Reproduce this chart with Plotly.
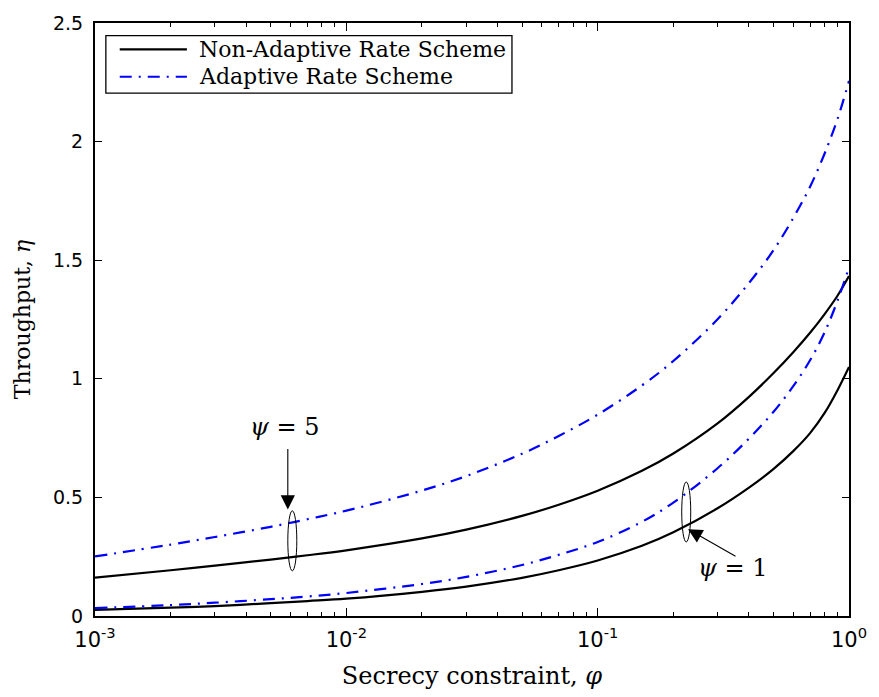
import math
import plotly.graph_objects as go

# Secrecy constraint values (sample points on the log axis)
phi = [0.001, 0.002, 0.003, 0.005, 0.007, 0.01, 0.02, 0.03, 0.05, 0.07,
       0.1, 0.15, 0.2, 0.3, 0.4, 0.5, 0.6, 0.7, 0.8, 0.9, 1.0]

# Throughput, psi = 5
non_adaptive_psi5 = [0.162, 0.193, 0.212, 0.238, 0.256, 0.277, 0.327, 0.364, 0.422, 0.469,
                     0.528, 0.612, 0.685, 0.812, 0.924, 1.023, 1.112, 1.194, 1.273, 1.350, 1.433]
adaptive_psi5 = [0.251, 0.301, 0.333, 0.376, 0.408, 0.444, 0.529, 0.590, 0.684, 0.759,
                 0.849, 0.972, 1.075, 1.251, 1.404, 1.541, 1.678, 1.810, 1.950, 2.095, 2.256]

# Throughput, psi = 1
non_adaptive_psi1 = [0.026, 0.035, 0.042, 0.054, 0.063, 0.073, 0.102, 0.124, 0.161, 0.193,
                     0.234, 0.296, 0.353, 0.454, 0.541, 0.619, 0.695, 0.771, 0.856, 0.952, 1.050]
adaptive_psi1 = [0.033, 0.046, 0.056, 0.071, 0.082, 0.097, 0.135, 0.165, 0.215, 0.258,
                 0.312, 0.397, 0.478, 0.623, 0.748, 0.860, 0.969, 1.078, 1.196, 1.329, 1.470]

x_tick_vals = [1e-3, 1e-2, 1e-1, 1e0]
x_tick_text = ["10<sup>-3</sup>", "10<sup>-2</sup>", "10<sup>-1</sup>", "10<sup>0</sup>"]
y_tick_vals = [0, 0.5, 1, 1.5, 2, 2.5]
y_tick_text = ["0", "0.5", "1", "1.5", "2", "2.5"]

legend_labels = ["Non-Adaptive Rate Scheme", "Adaptive Rate Scheme"]

BLACK = "#000000"
BLUE = "#0000ff"
DASHDOT = "12px,7px,2px,7px"
SERIF = "DejaVu Serif"
SANS = "DejaVu Sans"

fig = go.Figure()

for ys in (non_adaptive_psi5, non_adaptive_psi1):
    fig.add_trace(go.Scatter(
        x=phi, y=ys, mode="lines", name=legend_labels[0], showlegend=False,
        line=dict(color=BLACK, width=2.2, shape="spline", smoothing=1),
    ))
for ys in (adaptive_psi5, adaptive_psi1):
    fig.add_trace(go.Scatter(
        x=phi, y=ys, mode="lines", name=legend_labels[1], showlegend=False,
        line=dict(color=BLUE, width=2.2, dash=DASHDOT, shape="spline", smoothing=1),
    ))

minor_vals = [m * 10.0 ** e for e in (-3, -2, -1) for m in range(2, 10)]

fig.update_xaxes(
    type="log", range=[-3, 0],
    tickmode="array", tickvals=x_tick_vals, ticktext=x_tick_text,
    ticks="inside", ticklen=8, tickwidth=1.2, tickcolor=BLACK,
    minor=dict(tickmode="array", tickvals=minor_vals, ticks="inside",
               ticklen=4, tickwidth=1, tickcolor=BLACK, showgrid=False),
    showline=True, linecolor=BLACK, linewidth=2, mirror="ticks",
    showgrid=False, zeroline=False,
    tickfont=dict(family=SANS, size=21, color=BLACK),
    ticklabelstandoff=4,
    title=dict(text="Secrecy constraint, <i>φ</i>",
               font=dict(family=SERIF, size=24, color=BLACK), standoff=16),
)
fig.update_yaxes(
    range=[0, 2.5],
    tickmode="array", tickvals=y_tick_vals, ticktext=y_tick_text,
    ticks="inside", ticklen=7, tickwidth=1.2, tickcolor=BLACK,
    showline=True, linecolor=BLACK, linewidth=2, mirror="ticks",
    showgrid=False, zeroline=False,
    tickfont=dict(family=SANS, size=19, color=BLACK),
    ticklabelstandoff=6,
    title=dict(text="Throughput, <i>η</i>",
               font=dict(family=SERIF, size=22, color=BLACK), standoff=16),
)

# Legend drawn in paper coordinates
fig.add_shape(type="rect", xref="paper", yref="paper",
              x0=0.0144, x1=0.553, y0=0.8816, y1=0.9787,
              line=dict(color=BLACK, width=1.3), fillcolor="white", layer="above")
legend_rows = [(0.9554, BLACK, "solid"), (0.9094, BLUE, DASHDOT)]
for (yy, col, dsh), label in zip(legend_rows, legend_labels):
    fig.add_shape(type="line", xref="paper", yref="paper",
                  x0=0.0328, x1=0.1219, y0=yy, y1=yy,
                  line=dict(color=col, width=2.2, dash=dsh), layer="above")
    fig.add_annotation(xref="paper", yref="paper", x=0.135, y=yy,
                       text=label, showarrow=False, xanchor="left", yanchor="middle",
                       font=dict(family=SERIF, size=22, color=BLACK))

# Ellipses grouping the curve pairs
for cx, cy in ((0.00585, 0.317), (0.216, 0.4385)):
    fig.add_shape(type="circle", xref="x", yref="y",
                  xsizemode="pixel", ysizemode="pixel",
                  xanchor=cx, yanchor=cy, x0=-9, x1=9, y0=-30, y1=30,
                  line=dict(color=BLACK, width=1))

# psi labels and arrows
fig.add_annotation(x=math.log10(0.00585), y=0.449, ax=0, ay=-62,
                   xref="x", yref="y",
                   text="", showarrow=True, arrowhead=2, arrowsize=2.6,
                   arrowwidth=1.1, arrowcolor=BLACK)
fig.add_annotation(x=math.log10(0.0057), y=0.797, xref="x", yref="y",
                   text="<i>ψ</i> = 5", showarrow=False,
                   font=dict(family=SERIF, size=24, color=BLACK))
fig.add_annotation(x=math.log10(0.2288), y=0.366, ax=49, ay=28,
                   xref="x", yref="y",
                   text="", showarrow=True, arrowhead=2, arrowsize=2.6,
                   arrowwidth=1.1, arrowcolor=BLACK)
fig.add_annotation(x=math.log10(0.344), y=0.203, xref="x", yref="y",
                   text="<i>ψ</i> = 1", showarrow=False,
                   font=dict(family=SERIF, size=24, color=BLACK))

fig.update_layout(
    width=879, height=697,
    margin=dict(l=95, r=21, t=17, b=79),
    paper_bgcolor="white", plot_bgcolor="white",
    showlegend=False,
)

fig.write_html("out.html")
